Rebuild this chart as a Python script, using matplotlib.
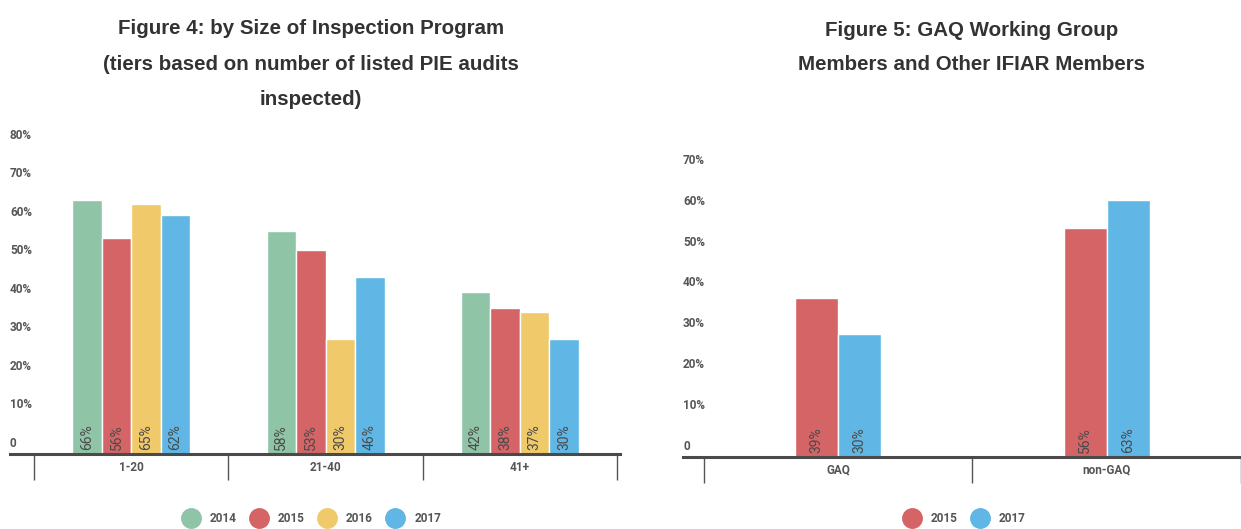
import matplotlib
matplotlib.use("Agg")
import matplotlib.pyplot as plt
from matplotlib.lines import Line2D
import matplotlib.transforms as mtransforms

# figure 4 data
tiers = ["1-20", "21-40", "41+"]
years4 = ["2014", "2015", "2016", "2017"]
v2014 = [66, 58, 42]
v2015 = [56, 53, 38]
v2016 = [65, 30, 37]
v2017 = [62, 46, 30]
ticks4 = [0, 10, 20, 30, 40, 50, 60, 70, 80]

# figure 5 data
groups = ["GAQ", "non-GAQ"]
years5 = ["2015", "2017"]
g2015 = [39, 56]
g2017 = [30, 63]
ticks5 = [0, 10, 20, 30, 40, 50, 60, 70]

colors = {"2014": "#8fc4a7", "2015": "#d46466", "2016": "#f0ca6a", "2017": "#60b6e4"}
txt = "#555555"
tickfont = "Roboto"

fig = plt.figure(figsize=(12.41, 5.29), dpi=100)


def draw(ax, cats, years, series, ticks, bw, xl, ymax):
    n = len(years)
    for i, (yr, vals) in enumerate(zip(years, series)):
        off = (i - (n - 1) / 2) * bw
        xs = [k + off for k in range(len(cats))]
        ax.bar(xs, vals, width=bw, color=colors[yr], edgecolor="white", linewidth=1, zorder=2)
        for x, v in zip(xs, vals):
            ax.text(x, 1.0 * ymax / 80, "%d%%" % v, rotation=90, ha="center", va="bottom",
                    fontsize=10, color="#4a4a4a", family=tickfont, zorder=3)
    ax.set_xlim(*xl)
    ax.set_ylim(0, ymax)
    for s in ["top", "right", "left"]:
        ax.spines[s].set_visible(False)
    ax.spines["bottom"].set_color("#4a4a4a")
    ax.spines["bottom"].set_linewidth(2.2)
    ax.set_yticks([])
    trans = mtransforms.blended_transform_factory(ax.transAxes, ax.transData)
    for t in ticks:
        lab = "0" if t == 0 else "%d%%" % t
        ax.annotate(lab, (0, t), xycoords=trans, xytext=(0, 3), textcoords="offset points",
                    ha="left", va="bottom", fontsize=8.5, color=txt, family=tickfont,
                    fontweight="bold", annotation_clip=False)
    ax.set_xticks(range(len(cats)))
    ax.set_xticklabels(cats, family=tickfont, fontsize=8.5, color=txt, fontweight="bold")
    ax.tick_params(axis="x", which="major", length=0, pad=5)
    ax.set_xticks([k - 0.5 for k in range(len(cats) + 1)], minor=True)
    ax.tick_params(axis="x", which="minor", length=19, width=1, color="#555555", direction="out")


ax1 = fig.add_axes([10 / 1241, 75 / 529, 610 / 1241, 308 / 529])
draw(ax1, tiers, years4, [v2014, v2015, v2016, v2017], ticks4, 0.152, (-0.624, 2.515), 80)

ax2 = fig.add_axes([683 / 1241, 72 / 529, 558 / 1241, 286 / 529])
draw(ax2, groups, years5, [g2015, g2017], ticks5, 0.16, (-0.577, 1.474), 70)

fig.text(311 / 1241, 1 - 64 / 529,
         "Figure 4: by Size of Inspection Program\n(tiers based on number of listed PIE audits\ninspected)",
         ha="center", va="center", fontsize=14.8, fontweight="bold", color="#333333",
         family="Liberation Sans", linespacing=2.1)
fig.text(972 / 1241, 1 - 47.5 / 529,
         "Figure 5: GAQ Working Group\nMembers and Other IFIAR Members",
         ha="center", va="center", fontsize=14.8, fontweight="bold", color="#333333",
         family="Liberation Sans", linespacing=2.05)


def legend(years, cx):
    handles = [Line2D([], [], marker="o", linestyle="", markersize=14,
                      markerfacecolor=colors[y], markeredgecolor=colors[y]) for y in years]
    fig.legend(handles, years, loc="center", bbox_to_anchor=(cx / 1241, 10 / 529), ncol=len(years),
               frameon=False, handletextpad=0.6, columnspacing=0.9,
               prop={"family": tickfont, "size": 8.5, "weight": "bold"}, labelcolor=txt)


legend(years4, 310)
legend(years5, 963)

fig.savefig("out.png", dpi=100)
